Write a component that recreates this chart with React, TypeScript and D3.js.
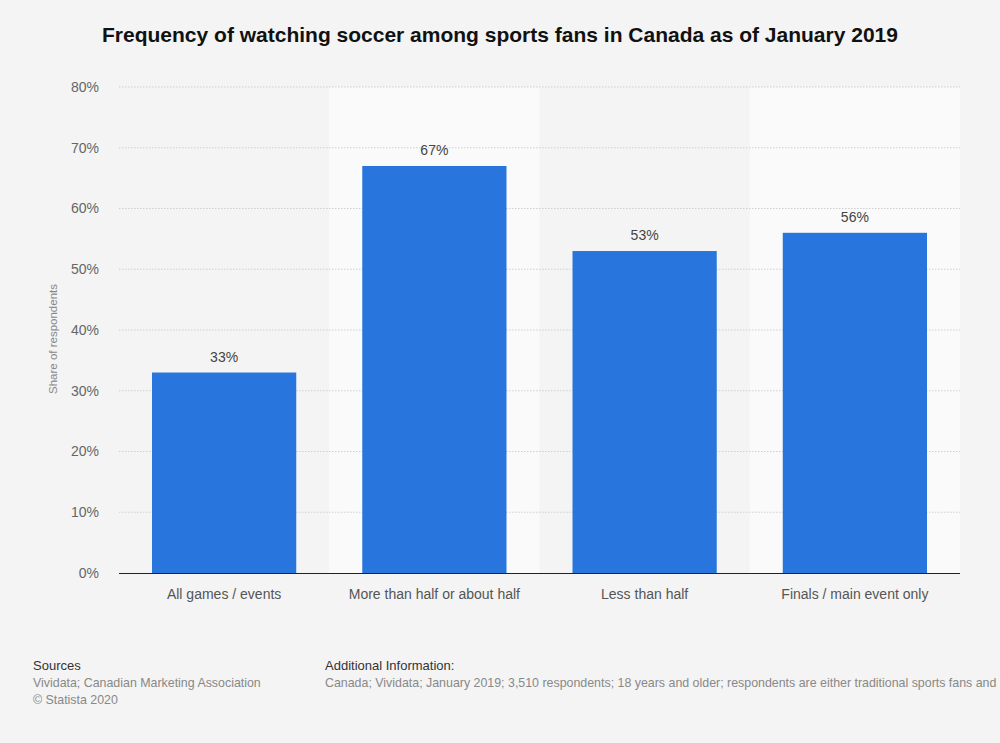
import React from "react";
import * as d3 from "d3";

const categories = ["All games / events", "More than half or about half", "Less than half", "Finals / main event only"];
const values = [33, 67, 53, 56];
const yTicks = [0, 10, 20, 30, 40, 50, 60, 70, 80];

const W = 1000;
const H = 743;
const FONT = "'Liberation Sans', Arial, Helvetica, sans-serif";

export default function App() {
  const left = 119;
  const right = 960;
  const top = 87;
  const bottom = 573;
  const x = d3.scaleBand<string>().domain(categories).range([left, right]).paddingInner(0).paddingOuter(0);
  const y = d3.scaleLinear().domain([0, 80]).range([bottom, top]);
  const bw = x.bandwidth();
  const barW = bw * 0.686;

  return (
    <svg width={W} height={H} style={{ position: "absolute", left: 0, top: 0, background: "#f4f4f4" }} fontFamily={FONT}>
      <rect x={0} y={0} width={W} height={H} fill="#f4f4f4" />
      {categories.map((c, i) =>
        i % 2 === 1 ? (
          <rect key={"band" + c} x={x(c)!} y={top} width={bw} height={bottom - top} fill="#fafafa" />
        ) : null
      )}
      {yTicks.map((t) =>
        t === 0 ? null : (
          <line key={"g" + t} x1={left} x2={right} y1={y(t)} y2={y(t)} stroke="#cfcfcf" strokeWidth={1} strokeDasharray="1.5,1.5" />
        )
      )}
      {yTicks.map((t) => (
        <text key={"t" + t} x={99} y={y(t)} dy="0.35em" textAnchor="end" fontSize={14} fill="#666">
          {t + "%"}
        </text>
      ))}
      <text transform={`translate(57,339) rotate(-90)`} textAnchor="middle" fontSize={11.5} fill="#888">
        Share of respondents
      </text>
      {categories.map((c, i) => {
        const cx = x(c)! + bw / 2;
        return (
          <g key={"b" + c}>
            <rect x={cx - barW / 2} y={y(values[i])} width={barW} height={bottom - y(values[i])} fill="#2876dd" />
            <text x={cx} y={y(values[i]) - 11} textAnchor="middle" fontSize={14} fill="#444">
              {values[i] + "%"}
            </text>
            <text x={cx} y={599} textAnchor="middle" fontSize={14} fill="#555">
              {c}
            </text>
          </g>
        );
      })}
      <line x1={left} x2={right} y1={bottom + 0.5} y2={bottom + 0.5} stroke="#222" strokeWidth={1.2} />
      <text x={500} y={42} textAnchor="middle" fontSize={21} fontWeight="bold" fill="#111">
        Frequency of watching soccer among sports fans in Canada as of January 2019
      </text>
      <text x={33} y={670} fontSize={13} fill="#333">Sources</text>
      <text x={33} y={687} fontSize={12.4} fill="#888">Vividata; Canadian Marketing Association</text>
      <text x={33} y={704} fontSize={12.4} fill="#888">© Statista 2020</text>
      <text x={325} y={670} fontSize={13} fill="#333">Additional Information:</text>
      <text x={325} y={687} fontSize={12.4} fill="#888">
        Canada; Vividata; January 2019; 3,510 respondents; 18 years and older; respondents are either traditional sports fans and
      </text>
    </svg>
  );
}
